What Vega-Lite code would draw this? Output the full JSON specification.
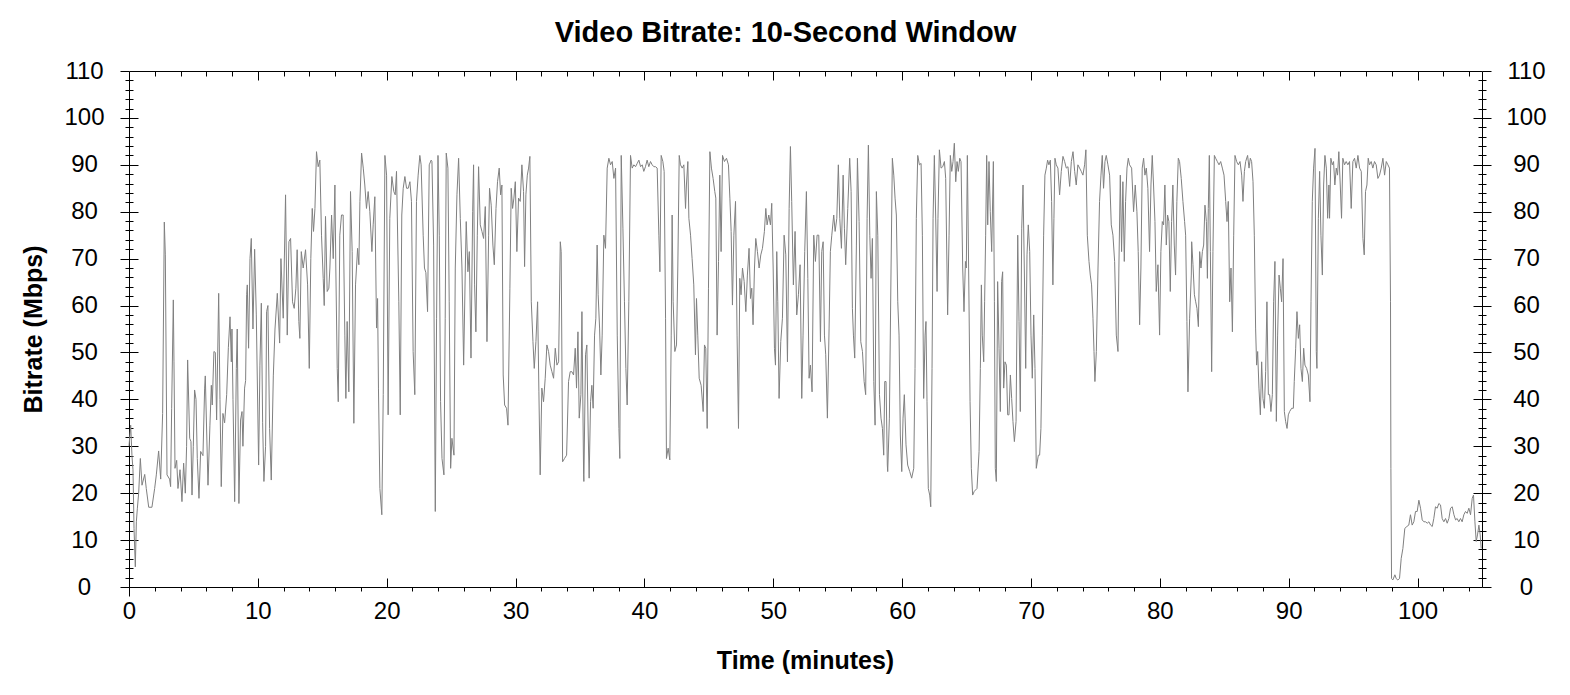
{
  "$schema": "https://vega.github.io/schema/vega-lite/v6.json",
  "description": "Video bitrate over time, 10-second window",
  "autosize": {"type": "none"},
  "padding": {"left": 129, "top": 71, "right": 88, "bottom": 108},
  "width": 1353,
  "height": 516,
  "background": "white",
  "title": {
    "text": "Video Bitrate: 10-Second Window",
    "font": "Liberation Sans",
    "fontSize": 29,
    "fontWeight": "bold",
    "color": "black",
    "anchor": "middle",
    "frame": "group",
    "baseline": "alphabetic",
    "dx": -20,
    "dy": 38,
    "offset": 26
  },
  "config": {
    "view": {"stroke": null},
    "axis": {
      "grid": false,
      "domainColor": "black",
      "domainWidth": 1,
      "tickColor": "black",
      "tickWidth": 1,
      "labelColor": "black",
      "labelFont": "Liberation Sans",
      "labelFontSize": 24,
      "titleColor": "black",
      "titleFont": "Liberation Sans",
      "titleFontSize": 25,
      "titleFontWeight": "bold",
      "labelOverlap": false,
      "labelFlush": false
    }
  },
  "data": {
    "values": [
      {"t":0,"v":30},{"t":0.13,"v":34.5},{"t":0.23,"v":28},{"t":0.31,"v":25},{"t":0.39,"v":12.5},{"t":0.49,"v":4.3},{"t":0.57,"v":13.9},{"t":0.65,"v":16.8},{"t":0.75,"v":20},{"t":0.88,"v":27.4},
      {"t":1.01,"v":21.7},{"t":1.22,"v":24},{"t":1.34,"v":21},{"t":1.53,"v":17},{"t":1.78,"v":17},{"t":1.99,"v":21},{"t":2.12,"v":23.9},{"t":2.3,"v":29},{"t":2.46,"v":23},{"t":2.61,"v":37},
      {"t":2.74,"v":77.8},{"t":2.82,"v":70.8},{"t":2.95,"v":23.9},{"t":3.15,"v":23},{"t":3.23,"v":21.4},{"t":3.31,"v":38},{"t":3.44,"v":61.2},{"t":3.49,"v":48},{"t":3.57,"v":25.3},{"t":3.7,"v":27},
      {"t":3.8,"v":21},{"t":3.96,"v":25},{"t":4.11,"v":18.2},{"t":4.24,"v":26.4},{"t":4.37,"v":20},{"t":4.47,"v":30},{"t":4.55,"v":48.4},{"t":4.71,"v":31.7},{"t":4.81,"v":31},{"t":4.89,"v":19.6},
      {"t":4.99,"v":30},{"t":5.09,"v":42},{"t":5.2,"v":40},{"t":5.3,"v":27.4},{"t":5.43,"v":18.9},{"t":5.56,"v":28.9},{"t":5.74,"v":28},{"t":5.87,"v":42.4},{"t":5.92,"v":45},{"t":6.13,"v":21.7},
      {"t":6.28,"v":34.5},{"t":6.39,"v":43},{"t":6.46,"v":38.8},{"t":6.59,"v":50.2},{"t":6.7,"v":50},{"t":6.8,"v":35.6},{"t":6.96,"v":62.6},{"t":7.06,"v":40},{"t":7.16,"v":21.4},{"t":7.29,"v":37},
      {"t":7.42,"v":35},{"t":7.58,"v":41},{"t":7.71,"v":51},{"t":7.84,"v":57.6},{"t":7.94,"v":48},{"t":7.99,"v":55},{"t":8.07,"v":40},{"t":8.2,"v":18.2},{"t":8.33,"v":46.6},{"t":8.4,"v":55},
      {"t":8.53,"v":17.8},{"t":8.66,"v":35.6},{"t":8.77,"v":37.4},{"t":8.84,"v":30},{"t":8.97,"v":42.4},{"t":9.05,"v":44},{"t":9.13,"v":62.3},{"t":9.18,"v":64.4},{"t":9.28,"v":50.9},{"t":9.39,"v":70},
      {"t":9.49,"v":74.3},{"t":9.62,"v":55},{"t":9.75,"v":72},{"t":9.88,"v":58},{"t":10.06,"v":26},{"t":10.16,"v":47.3},{"t":10.27,"v":60.5},{"t":10.37,"v":35},{"t":10.47,"v":22.5},{"t":10.6,"v":30},
      {"t":10.68,"v":58.7},{"t":10.78,"v":60},{"t":10.91,"v":33.8},{"t":11.04,"v":22.8},{"t":11.2,"v":45},{"t":11.33,"v":55},{"t":11.51,"v":62.6},{"t":11.69,"v":52},
      {"t":11.79,"v":70},{"t":11.97,"v":57.3},{"t":12.15,"v":83.6},{"t":12.28,"v":53.7},{"t":12.41,"v":73.6},{"t":12.54,"v":74.3},{"t":12.69,"v":60.8},{"t":12.82,"v":59.4},{"t":12.95,"v":63.7},{"t":13.05,"v":71.9},
      {"t":13.18,"v":56.6},{"t":13.26,"v":53},{"t":13.37,"v":71.5},{"t":13.52,"v":68},{"t":13.7,"v":71.9},{"t":13.86,"v":64.4},{"t":13.99,"v":46.6},{"t":14.11,"v":70},{"t":14.22,"v":80.7},{"t":14.32,"v":75.8},
      {"t":14.43,"v":80.7},{"t":14.55,"v":92.8},{"t":14.68,"v":89.6},{"t":14.81,"v":91},{"t":14.94,"v":75},{"t":15.07,"v":65.8},{"t":15.15,"v":60},{"t":15.25,"v":79},{"t":15.38,"v":63},{"t":15.51,"v":63.7},
      {"t":15.59,"v":68},{"t":15.72,"v":79.3},{"t":15.85,"v":70},{"t":15.98,"v":85.7},{"t":16.05,"v":68},{"t":16.16,"v":46.6},{"t":16.24,"v":39.5},{"t":16.36,"v":75},{"t":16.49,"v":79.3},{"t":16.62,"v":79.3},
      {"t":16.75,"v":53.7},{"t":16.83,"v":40.2},{"t":16.93,"v":56.6},{"t":17.06,"v":41.6},{"t":17.19,"v":84.3},{"t":17.32,"v":71.5},{"t":17.45,"v":34.9},{"t":17.58,"v":64.4},{"t":17.74,"v":72.2},{"t":17.84,"v":68.7},
      {"t":17.92,"v":82.2},{"t":18.05,"v":92.5},{"t":18.18,"v":89.3},{"t":18.3,"v":85.7},{"t":18.43,"v":80.7},{"t":18.56,"v":84.3},{"t":18.69,"v":80},{"t":18.85,"v":71.5},{"t":18.95,"v":77.2},{"t":19.08,"v":83.2},
      {"t":19.21,"v":55.2},{"t":19.29,"v":61.5},{"t":19.36,"v":42.4},{"t":19.47,"v":21},{"t":19.62,"v":15.4},{"t":19.73,"v":41},{"t":19.86,"v":92},{"t":19.99,"v":87.8},{"t":20.11,"v":36.7},{"t":20.24,"v":78.6},
      {"t":20.4,"v":87.5},{"t":20.55,"v":84.3},{"t":20.66,"v":83.6},{"t":20.76,"v":88.6},{"t":20.94,"v":60.8},{"t":21.05,"v":36.7},{"t":21.17,"v":79.3},{"t":21.28,"v":85},{"t":21.41,"v":87.5},{"t":21.54,"v":85},
      {"t":21.67,"v":85},{"t":21.8,"v":86.4},{"t":21.92,"v":82.2},{"t":22.05,"v":50.2},{"t":22.18,"v":41},{"t":22.31,"v":82.2},{"t":22.44,"v":87.8},{"t":22.57,"v":92},{"t":22.67,"v":90},{"t":22.83,"v":75},
      {"t":22.93,"v":68},{"t":23.04,"v":67},{"t":23.17,"v":58.7},{"t":23.3,"v":90},{"t":23.45,"v":91},
      {"t":23.51,"v":90.7},{"t":23.64,"v":72.9},{"t":23.77,"v":16.1},{"t":23.87,"v":57.3},{"t":23.98,"v":92},{"t":24.08,"v":75},{"t":24.18,"v":39.5},{"t":24.29,"v":27.4},{"t":24.44,"v":23.9},{"t":24.54,"v":57.3},
      {"t":24.62,"v":92.5},{"t":24.75,"v":89.3},{"t":24.85,"v":60.8},{"t":24.96,"v":25.3},{"t":25.06,"v":31.7},{"t":25.22,"v":28.1},{"t":25.32,"v":68},{"t":25.45,"v":83.6},{"t":25.58,"v":91.4},{"t":25.71,"v":78.6},
      {"t":25.84,"v":68},{"t":25.97,"v":47.3},{"t":26.1,"v":68},{"t":26.17,"v":77.9},{"t":26.3,"v":67.2},{"t":26.41,"v":71.5},{"t":26.54,"v":48.8},{"t":26.67,"v":80},{"t":26.74,"v":90},{"t":26.82,"v":64.4},
      {"t":26.92,"v":54.4},{"t":27.03,"v":75},{"t":27.13,"v":89.6},{"t":27.26,"v":77.2},{"t":27.39,"v":75.8},{"t":27.52,"v":74.3},{"t":27.65,"v":81.1},{"t":27.78,"v":52.3},{"t":27.91,"v":75},{"t":27.98,"v":85},
      {"t":28.11,"v":81.4},{"t":28.24,"v":72.9},{"t":28.35,"v":68.7},{"t":28.48,"v":80.7},{"t":28.6,"v":86.4},{"t":28.73,"v":89.3},{"t":28.84,"v":83.6},{"t":28.94,"v":85.7},{"t":29.04,"v":45.2},{"t":29.15,"v":38.8},
      {"t":29.3,"v":38.1},{"t":29.41,"v":34.5},{"t":29.56,"v":63.7},{"t":29.66,"v":85},{"t":29.77,"v":80.7},{"t":29.87,"v":82.9},{"t":29.98,"v":86.4},{"t":30.1,"v":71.5},{"t":30.23,"v":82.9},{"t":30.36,"v":82.2},
      {"t":30.49,"v":90},{"t":30.62,"v":84.3},{"t":30.7,"v":68.3},{"t":30.8,"v":83.6},{"t":30.91,"v":87.8},{"t":31.01,"v":89.3},{"t":31.11,"v":91.8},{"t":31.22,"v":60.8},{"t":31.35,"v":52.3},{"t":31.45,"v":46.6},
      {"t":31.58,"v":52.3},{"t":31.71,"v":60.8},{"t":31.81,"v":41.6},{"t":31.91,"v":23.9},{"t":32.04,"v":42.4},{"t":32.17,"v":39.5},{"t":32.3,"v":44.5},{"t":32.43,"v":51.6},{"t":32.56,"v":50.2},{"t":32.69,"v":47.3},
      {"t":32.82,"v":45.9},{"t":32.95,"v":44.5},{"t":33.08,"v":50.9},{"t":33.21,"v":47.3},{"t":33.34,"v":48},{"t":33.47,"v":73.6},{"t":33.54,"v":71.5},{"t":33.65,"v":26.7},{"t":33.8,"v":27.4},{"t":33.96,"v":28.1},
      {"t":34.11,"v":43.8},{"t":34.24,"v":45.9},{"t":34.37,"v":45.9},{"t":34.5,"v":45.2},{"t":34.63,"v":50.9},{"t":34.73,"v":42.4},{"t":34.84,"v":54.4},{"t":34.94,"v":36},{"t":35.07,"v":41},{"t":35.15,"v":58.7},
      {"t":35.28,"v":23.9},{"t":35.3,"v":22.5},{"t":35.43,"v":49.5},{"t":35.53,"v":51.6},{"t":35.64,"v":32.4},{"t":35.71,"v":23.2},{"t":35.82,"v":39.5},{"t":35.92,"v":43},{"t":36.02,"v":38.1},{"t":36.13,"v":53.7},
      {"t":36.23,"v":57.3},{"t":36.33,"v":72.9},{"t":36.41,"v":62.3},{"t":36.52,"v":55.2},{"t":36.62,"v":45.2},{"t":36.72,"v":53.7},{"t":36.85,"v":75},{"t":36.98,"v":72.2},{"t":37.11,"v":89.3},{"t":37.24,"v":91.4},
      {"t":37.37,"v":90},{"t":37.5,"v":90.7},{"t":37.63,"v":87.1},{"t":37.76,"v":89.3},{"t":37.89,"v":53.7},{"t":38.02,"v":33.8},{"t":38.09,"v":27.4},{"t":38.2,"v":92},{"t":38.33,"v":76.5},{"t":38.45,"v":60.8},
      {"t":38.56,"v":46.6},{"t":38.66,"v":38.8},{"t":38.79,"v":60.8},{"t":38.92,"v":92},{"t":39.05,"v":89.3},{"t":39.18,"v":90},{"t":39.31,"v":89.6},{"t":39.44,"v":90.3},{"t":39.57,"v":91},{"t":39.7,"v":89.6},
      {"t":39.83,"v":90},{"t":39.95,"v":88.6},{"t":40.08,"v":89.6},{"t":40.21,"v":91},{"t":40.34,"v":89.6},{"t":40.47,"v":90.7},{"t":40.6,"v":90},{"t":40.73,"v":89.6},{"t":40.86,"v":89.6},{"t":40.99,"v":89.3},
      {"t":41.12,"v":75},{"t":41.2,"v":67.2},{"t":41.3,"v":92},{"t":41.43,"v":90.7},{"t":41.53,"v":88.6},{"t":41.64,"v":57.3},{"t":41.71,"v":27.4},{"t":41.84,"v":29.6},{"t":41.97,"v":27.1},{"t":42.08,"v":53.7},
      {"t":42.15,"v":79.3},{"t":42.23,"v":60.8},{"t":42.36,"v":50.2},{"t":42.49,"v":51.6},{"t":42.59,"v":68},{"t":42.7,"v":92},{"t":42.8,"v":90},{"t":42.93,"v":89.3},{"t":43.06,"v":90},{"t":43.19,"v":80.7},
      {"t":43.26,"v":85.7},{"t":43.37,"v":90.7},{"t":43.45,"v":78.6},{"t":43.58,"v":75},{"t":43.7,"v":70},{"t":43.83,"v":64.4},{"t":43.96,"v":49.5},{"t":44.04,"v":61.5},{"t":44.14,"v":53.7},{"t":44.25,"v":44.5},
      {"t":44.4,"v":43},{"t":44.56,"v":37.4},{"t":44.66,"v":51.6},{"t":44.76,"v":50.9},{"t":44.87,"v":33.8},{"t":44.97,"v":63.7},{"t":45.08,"v":92.8},{"t":45.2,"v":89.3},{"t":45.33,"v":87.1},{"t":45.46,"v":84.3},
      {"t":45.54,"v":82.9},{"t":45.64,"v":53.7},{"t":45.75,"v":69.4},{"t":45.85,"v":87.8},{"t":45.95,"v":71.5},{"t":46.06,"v":92},{"t":46.21,"v":90.7},{"t":46.37,"v":91.4},{"t":46.52,"v":90},{"t":46.63,"v":82.9},
      {"t":46.73,"v":75.8},{"t":46.83,"v":60.1},{"t":46.94,"v":75},{"t":47.07,"v":82.2},
      {"t":47.19,"v":53.7},{"t":47.3,"v":33.8},{"t":47.4,"v":65.8},{"t":47.5,"v":62.3},{"t":47.61,"v":68},{"t":47.74,"v":65.1},{"t":47.87,"v":58.7},{"t":47.99,"v":66.5},{"t":48.12,"v":72.2},{"t":48.23,"v":61.5},
      {"t":48.33,"v":63.7},{"t":48.43,"v":55.9},{"t":48.54,"v":68},{"t":48.64,"v":74.3},{"t":48.77,"v":71.5},{"t":48.9,"v":68},{"t":49.03,"v":70.8},{"t":49.16,"v":72.2},{"t":49.31,"v":75.8},{"t":49.42,"v":80.7},
      {"t":49.52,"v":77.2},{"t":49.65,"v":79.3},{"t":49.78,"v":77.2},{"t":49.88,"v":81.8},{"t":49.99,"v":68},{"t":50.09,"v":50.9},{"t":50.17,"v":47.3},{"t":50.27,"v":71.5},{"t":50.35,"v":60.8},{"t":50.45,"v":40.2},
      {"t":50.58,"v":52.3},{"t":50.71,"v":57.3},{"t":50.84,"v":75},{"t":50.97,"v":70.8},{"t":51.1,"v":48},{"t":51.23,"v":80.7},{"t":51.33,"v":93.9},{"t":51.43,"v":82.2},{"t":51.56,"v":64.4},{"t":51.69,"v":75.8},
      {"t":51.82,"v":58},{"t":51.95,"v":62.3},{"t":52.08,"v":68.7},{"t":52.21,"v":40.2},{"t":52.31,"v":53.7},{"t":52.44,"v":71.5},{"t":52.57,"v":84.3},{"t":52.68,"v":65.8},{"t":52.78,"v":44.5},{"t":52.88,"v":47.3},
      {"t":53.01,"v":41.6},{"t":53.14,"v":75},{"t":53.27,"v":69.4},{"t":53.4,"v":75},{"t":53.53,"v":75},{"t":53.66,"v":52.3},{"t":53.76,"v":71.5},{"t":53.87,"v":73.6},{"t":53.97,"v":53.7},{"t":54.07,"v":49.5},
      {"t":54.2,"v":36},{"t":54.33,"v":55.2},{"t":54.43,"v":71.5},{"t":54.54,"v":75},{"t":54.69,"v":79.3},{"t":54.8,"v":75.8},{"t":54.93,"v":78.6},{"t":55.05,"v":90},{"t":55.16,"v":78.6},{"t":55.29,"v":72.2},
      {"t":55.42,"v":87.8},{"t":55.52,"v":76.5},{"t":55.62,"v":68.7},{"t":55.78,"v":80.7},{"t":55.93,"v":91.4},{"t":56.04,"v":84.3},{"t":56.14,"v":59.4},{"t":56.22,"v":53.7},{"t":56.32,"v":48.8},{"t":56.45,"v":72.9},
      {"t":56.53,"v":91.4},{"t":56.66,"v":77.9},{"t":56.79,"v":52.3},{"t":56.92,"v":50.2},{"t":57.05,"v":43.8},{"t":57.17,"v":41},{"t":57.28,"v":78.6},{"t":57.38,"v":94.2},{"t":57.49,"v":75},{"t":57.59,"v":65.8},
      {"t":57.69,"v":74.3},{"t":57.8,"v":43.8},{"t":57.9,"v":34.5},{"t":58.0,"v":84.3},{"t":58.11,"v":75},{"t":58.24,"v":41},{"t":58.36,"v":36},{"t":58.47,"v":33.8},{"t":58.57,"v":28.1},{"t":58.65,"v":43.8},
      {"t":58.75,"v":43.8},{"t":58.85,"v":26},
      {"t":58.88,"v":24.6},{"t":59.01,"v":36},{"t":59.14,"v":68},{"t":59.24,"v":91.4},{"t":59.35,"v":87.8},{"t":59.45,"v":82.9},{"t":59.55,"v":79.3},{"t":59.66,"v":60.8},{"t":59.76,"v":53.7},{"t":59.86,"v":32.4},
      {"t":59.97,"v":24.6},{"t":60.07,"v":36},{"t":60.17,"v":41},{"t":60.3,"v":30.3},{"t":60.43,"v":26},{"t":60.59,"v":24.6},{"t":60.74,"v":23.2},{"t":60.9,"v":25.3},{"t":61.0,"v":46.6},{"t":61.1,"v":78.6},
      {"t":61.21,"v":92},{"t":61.34,"v":90},{"t":61.47,"v":90.3},{"t":61.57,"v":75},{"t":61.67,"v":40.2},{"t":61.78,"v":53.7},{"t":61.85,"v":56.6},{"t":61.93,"v":39.5},{"t":62.03,"v":21},{"t":62.14,"v":19.6},
      {"t":62.22,"v":17.1},{"t":62.32,"v":46.6},{"t":62.4,"v":78.6},{"t":62.5,"v":92},{"t":62.6,"v":79.3},{"t":62.71,"v":63},{"t":62.78,"v":78.6},{"t":62.89,"v":93.2},{"t":63.02,"v":89.3},{"t":63.15,"v":89.6},
      {"t":63.28,"v":90.7},{"t":63.38,"v":87.1},{"t":63.48,"v":68},{"t":63.53,"v":58},{"t":63.64,"v":75},{"t":63.74,"v":92},{"t":63.85,"v":88.6},{"t":63.95,"v":90.7},{"t":64.05,"v":94.6},{"t":64.16,"v":86.4},
      {"t":64.26,"v":90.7},{"t":64.36,"v":88.6},{"t":64.47,"v":91.4},{"t":64.57,"v":90.7},{"t":64.7,"v":68},{"t":64.8,"v":58.7},{"t":64.91,"v":69.4},{"t":64.98,"v":68},{"t":65.06,"v":92},{"t":65.16,"v":68},
      {"t":65.27,"v":39.5},{"t":65.37,"v":25.3},{"t":65.47,"v":19.6},{"t":65.6,"v":20.4},{"t":65.81,"v":21},{"t":65.97,"v":28.9},{"t":66.07,"v":46.6},{"t":66.15,"v":64.4},{"t":66.22,"v":53.7},{"t":66.33,"v":48},
      {"t":66.4,"v":60.8},{"t":66.48,"v":75},{"t":66.56,"v":92},{"t":66.64,"v":77.2},{"t":66.74,"v":90.7},{"t":66.84,"v":80},{"t":66.95,"v":71.5},{"t":67.08,"v":90.7},{"t":67.16,"v":60.8},{"t":67.23,"v":25.3},
      {"t":67.31,"v":22.5},{"t":67.41,"v":65.1},{"t":67.52,"v":50.9},{"t":67.62,"v":37.4},{"t":67.72,"v":65.1},{"t":67.8,"v":67.2},{"t":67.88,"v":42.4},{"t":67.98,"v":48},{"t":68.09,"v":47.3},{"t":68.19,"v":36.7},
      {"t":68.29,"v":36.7},{"t":68.4,"v":45.2},{"t":68.5,"v":40.2},{"t":68.6,"v":35.3},{"t":68.71,"v":31},{"t":68.84,"v":35.3},{"t":68.97,"v":75},{"t":69.07,"v":56.6},{"t":69.17,"v":37.4},{"t":69.28,"v":76.5},
      {"t":69.38,"v":85.7},{"t":69.48,"v":68},{"t":69.59,"v":46.6},{"t":69.69,"v":70.8},{"t":69.79,"v":77.2},{"t":69.9,"v":71.5},{"t":70.0,"v":53.7},{"t":70.1,"v":44.5},{"t":70.21,"v":58},{"t":70.31,"v":46.6},
      {"t":70.41,"v":25.3},{"t":70.57,"v":28.1},
      {"t":70.67,"v":28.1},{"t":70.77,"v":33.8},{"t":70.88,"v":53.7},{"t":70.98,"v":75},{"t":71.08,"v":87.8},{"t":71.19,"v":89.3},{"t":71.29,"v":91},{"t":71.39,"v":90},{"t":71.5,"v":91},{"t":71.6,"v":82.2},
      {"t":71.7,"v":64.4},{"t":71.78,"v":78.6},{"t":71.86,"v":91.4},{"t":71.96,"v":90},{"t":72.09,"v":89.3},{"t":72.22,"v":83.6},{"t":72.35,"v":88.6},{"t":72.48,"v":91.8},{"t":72.61,"v":90.7},{"t":72.74,"v":89.3},
      {"t":72.87,"v":89.6},{"t":73.0,"v":85.4},{"t":73.13,"v":90.7},{"t":73.26,"v":92.8},{"t":73.39,"v":88.6},{"t":73.51,"v":85.7},{"t":73.64,"v":90},{"t":73.77,"v":89.3},{"t":73.9,"v":88.6},{"t":74.03,"v":87.8},
      {"t":74.16,"v":90},{"t":74.26,"v":93.2},{"t":74.37,"v":75},{"t":74.5,"v":69.4},{"t":74.6,"v":66.5},{"t":74.7,"v":64.4},{"t":74.81,"v":57.3},{"t":74.89,"v":50.2},{"t":74.96,"v":43.8},{"t":75.07,"v":50.2},
      {"t":75.2,"v":68},{"t":75.32,"v":82.2},{"t":75.43,"v":87.8},{"t":75.53,"v":92},{"t":75.63,"v":85},{"t":75.74,"v":90.7},{"t":75.84,"v":92},{"t":75.97,"v":90},{"t":76.1,"v":87.8},{"t":76.23,"v":77.2},
      {"t":76.36,"v":75},{"t":76.49,"v":69.4},{"t":76.62,"v":53.7},{"t":76.75,"v":50.2},{"t":76.82,"v":68},{"t":76.93,"v":87.8},{"t":77.03,"v":71.5},{"t":77.13,"v":86.4},{"t":77.24,"v":69.4},{"t":77.34,"v":82.2},
      {"t":77.45,"v":89.3},{"t":77.55,"v":91.4},{"t":77.65,"v":90},{"t":77.81,"v":89.3},{"t":77.96,"v":80},{"t":78.09,"v":85.7},{"t":78.22,"v":80},{"t":78.32,"v":71.5},{"t":78.43,"v":55.9},{"t":78.53,"v":68},
      {"t":78.63,"v":89.3},{"t":78.74,"v":91.4},{"t":78.84,"v":87.8},{"t":78.95,"v":89.3},{"t":79.07,"v":85},{"t":79.2,"v":71.5},{"t":79.31,"v":85.7},{"t":79.41,"v":92},{"t":79.51,"v":85.7},{"t":79.62,"v":77.9},
      {"t":79.72,"v":63},{"t":79.85,"v":68.7},{"t":79.98,"v":53.7},{"t":80.08,"v":71.5},{"t":80.19,"v":77.9},{"t":80.29,"v":77.2},{"t":80.39,"v":85.7},{"t":80.5,"v":72.9},{"t":80.6,"v":79.3},{"t":80.7,"v":77.9},
      {"t":80.81,"v":63},{"t":80.91,"v":77.9},{"t":81.01,"v":85.7},{"t":81.12,"v":72.9},{"t":81.22,"v":66.5},{"t":81.32,"v":82.2},{"t":81.43,"v":91.4},{"t":81.53,"v":90.7},{"t":81.66,"v":87.1},{"t":81.79,"v":82.2},
      {"t":81.92,"v":77.9},{"t":82.0,"v":75},{"t":82.1,"v":56.6},{"t":82.18,"v":41.6},{"t":82.31,"v":57.3},{"t":82.44,"v":66.5},
      {"t":82.47,"v":73.6},{"t":82.57,"v":68.7},{"t":82.68,"v":62.3},{"t":82.78,"v":60.8},{"t":82.88,"v":59.4},{"t":82.99,"v":55.5},{"t":83.09,"v":71.5},{"t":83.19,"v":68},{"t":83.3,"v":71.5},{"t":83.4,"v":72.9},
      {"t":83.5,"v":81.4},{"t":83.61,"v":77.9},{"t":83.69,"v":65.8},{"t":83.76,"v":80.7},{"t":83.84,"v":92},{"t":83.92,"v":71.5},{"t":84.02,"v":45.9},{"t":84.12,"v":71.5},{"t":84.23,"v":92},{"t":84.33,"v":91.4},
      {"t":84.46,"v":90.7},{"t":84.59,"v":90},{"t":84.72,"v":90.7},{"t":84.85,"v":89.3},{"t":84.98,"v":87.8},{"t":85.11,"v":82.2},{"t":85.21,"v":77.9},{"t":85.31,"v":82.2},{"t":85.42,"v":60.8},{"t":85.52,"v":68},
      {"t":85.63,"v":54.4},{"t":85.73,"v":75},{"t":85.83,"v":92},{"t":85.96,"v":90.7},{"t":86.09,"v":90},{"t":86.22,"v":90.7},{"t":86.35,"v":87.8},{"t":86.45,"v":82.2},{"t":86.56,"v":88.6},{"t":86.66,"v":90.7},
      {"t":86.81,"v":92},{"t":86.92,"v":89.3},{"t":87.02,"v":91.4},{"t":87.12,"v":90.7},{"t":87.23,"v":86.4},{"t":87.33,"v":75},{"t":87.43,"v":55.2},{"t":87.51,"v":47.3},{"t":87.59,"v":50.2},{"t":87.69,"v":42.4},
      {"t":87.8,"v":36.7},{"t":87.9,"v":48},{"t":88.0,"v":40.2},{"t":88.11,"v":38.1},{"t":88.21,"v":45.9},{"t":88.31,"v":60.8},{"t":88.42,"v":41},{"t":88.52,"v":41},{"t":88.62,"v":37.4},{"t":88.73,"v":41},
      {"t":88.83,"v":60.8},{"t":88.93,"v":69.4},{"t":89.04,"v":35.3},{"t":89.14,"v":53.7},{"t":89.25,"v":66.5},{"t":89.35,"v":63.7},{"t":89.45,"v":60.8},{"t":89.56,"v":70},{"t":89.66,"v":37.4},{"t":89.76,"v":35.3},
      {"t":89.87,"v":33.8},{"t":89.97,"v":36.7},{"t":90.07,"v":37.4},{"t":90.23,"v":38.1},{"t":90.36,"v":38.1},{"t":90.43,"v":43.8},{"t":90.54,"v":50.9},{"t":90.64,"v":58.7},{"t":90.75,"v":53},{"t":90.85,"v":55.9},
      {"t":90.95,"v":46.6},{"t":91.06,"v":43.8},{"t":91.16,"v":50.9},{"t":91.26,"v":47.3},{"t":91.39,"v":46.6},{"t":91.52,"v":45.2},{"t":91.65,"v":39.5},{"t":91.73,"v":60.8},{"t":91.83,"v":82.2},{"t":91.93,"v":89.3},
      {"t":92.04,"v":93.5},{"t":92.14,"v":50.2},{"t":92.19,"v":46.6},{"t":92.3,"v":78.6},{"t":92.4,"v":88.6},{"t":92.5,"v":75},{"t":92.61,"v":66.5},{"t":92.71,"v":85.7},{"t":92.81,"v":92},{"t":92.92,"v":89.3},
      {"t":93.02,"v":78.6},{"t":93.12,"v":85.7},
      {"t":93.17,"v":78.6},{"t":93.27,"v":91.4},{"t":93.38,"v":90},{"t":93.48,"v":90.7},{"t":93.58,"v":85.7},{"t":93.69,"v":89.3},{"t":93.79,"v":87.8},{"t":93.89,"v":92.8},{"t":94.0,"v":85.7},{"t":94.1,"v":78.6},
      {"t":94.2,"v":91.4},{"t":94.33,"v":90},{"t":94.46,"v":90.7},{"t":94.59,"v":90},{"t":94.72,"v":90.7},{"t":94.85,"v":80.7},{"t":94.98,"v":90.7},{"t":95.11,"v":91.4},{"t":95.24,"v":89.3},{"t":95.37,"v":92},
      {"t":95.5,"v":89.3},{"t":95.63,"v":88.6},{"t":95.76,"v":74.3},{"t":95.86,"v":70.8},{"t":95.96,"v":84.3},{"t":96.07,"v":85.7},{"t":96.17,"v":91.4},{"t":96.27,"v":90},{"t":96.4,"v":90.7},{"t":96.53,"v":89.3},
      {"t":96.66,"v":90.7},{"t":96.79,"v":90},{"t":96.92,"v":87.1},{"t":97.05,"v":87.8},{"t":97.18,"v":89.3},{"t":97.31,"v":91.4},{"t":97.44,"v":87.8},{"t":97.57,"v":90.7},{"t":97.7,"v":90},{"t":97.82,"v":89.3},
      {"t":97.9,"v":60.8},{"t":97.93,"v":25.3},{"t":97.98,"v":1.8},{"t":98.08,"v":1.5},{"t":98.24,"v":2.6},{"t":98.34,"v":1.8},{"t":98.47,"v":1.5},{"t":98.6,"v":1.8},{"t":98.73,"v":6.1},{"t":98.86,"v":8.2},
      {"t":99.01,"v":12.5},{"t":99.17,"v":12.9},{"t":99.32,"v":13.2},{"t":99.45,"v":15.4},{"t":99.58,"v":13.2},{"t":99.71,"v":13.9},{"t":99.84,"v":16.1},{"t":99.97,"v":16.1},{"t":100.1,"v":18.5},{"t":100.23,"v":16.8},
      {"t":100.36,"v":14.3},{"t":100.49,"v":13.9},{"t":100.62,"v":13.9},{"t":100.75,"v":13.6},{"t":100.88,"v":13.9},{"t":101.01,"v":13.2},{"t":101.14,"v":12.9},{"t":101.26,"v":14.6},{"t":101.39,"v":17.1},{"t":101.52,"v":16.8},
      {"t":101.65,"v":17.8},{"t":101.78,"v":17.5},{"t":101.91,"v":14.6},{"t":102.04,"v":13.9},{"t":102.17,"v":14.6},{"t":102.3,"v":13.6},{"t":102.43,"v":14.6},{"t":102.56,"v":16.8},{"t":102.69,"v":17.1},{"t":102.82,"v":15.4},
      {"t":102.95,"v":14.3},{"t":103.07,"v":14.6},{"t":103.2,"v":13.9},{"t":103.33,"v":14.6},{"t":103.46,"v":13.9},{"t":103.59,"v":15.4},{"t":103.72,"v":16.1},{"t":103.85,"v":15.7},{"t":103.98,"v":16.8},{"t":104.11,"v":15.4},
      {"t":104.24,"v":18.9},{"t":104.34,"v":19.6},{"t":104.45,"v":13.9},{"t":104.55,"v":9.7},{"t":104.65,"v":11.1},{"t":104.76,"v":13.2},{"t":104.86,"v":11.1},{"t":104.94,"v":8.2}
    ]
  },
  "resolve": {"axis": {"x": "independent", "y": "independent"}},
  "layer": [
    {
      "mark": {"type": "line", "color": "#808080", "strokeWidth": 1, "interpolate": "linear"},
      "encoding": {
        "x": {"field": "t", "type": "quantitative", "scale": {"domain": [0, 105], "nice": false, "zero": false},
          "axis": {"orient": "bottom", "ticks": false, "domain": true, "values": [0,10,20,30,40,50,60,70,80,90,100], "labelPadding": 12, "labelBaseline": "top", "title": "Time (minutes)", "titleY": 81, "titleBaseline": "alphabetic", "titleX": 676}},
        "y": {"field": "v", "type": "quantitative", "scale": {"domain": [0, 110], "nice": false, "zero": true},
          "axis": {"orient": "left", "ticks": false, "domain": true, "values": [0,10,20,30,40,50,60,70,80,90,100,110], "labelAlign": "center", "labelBaseline": "middle", "labelPadding": 45, "title": "Bitrate (Mbps)", "titleX": -88, "titleY": 258, "titleAngle": -90, "titleAlign": "center", "titleBaseline": "alphabetic"}}
      }
    },
    {
      "mark": {"type": "line", "strokeOpacity": 0},
      "encoding": {
        "x": {"field": "t", "type": "quantitative", "scale": {"domain": [0, 105], "nice": false, "zero": false},
          "axis": {"orient": "bottom", "labels": false, "domain": false, "title": null, "tickSize": -9, "values": [0,10,20,30,40,50,60,70,80,90,100]}},
        "y": {"field": "v", "type": "quantitative", "scale": {"domain": [0, 110], "nice": false, "zero": true},
          "axis": {"orient": "right", "ticks": false, "domain": true, "title": null, "values": [0,10,20,30,40,50,60,70,80,90,100,110], "labelAlign": "center", "labelBaseline": "middle", "labelPadding": 44}}
      }
    },
    {
      "mark": {"type": "line", "strokeOpacity": 0},
      "encoding": {
        "x": {"field": "t", "type": "quantitative", "scale": {"domain": [0, 105], "nice": false, "zero": false},
          "axis": {"orient": "bottom", "labels": false, "domain": false, "title": null, "tickSize": 4, "values": [2,4,6,8,12,14,16,18,22,24,26,28,32,34,36,38,42,44,46,48,52,54,56,58,62,64,66,68,72,74,76,78,82,84,86,88,92,94,96,98,102,104]}},
        "y": {"field": "v", "type": "quantitative", "scale": {"domain": [0, 110], "nice": false, "zero": true},
          "axis": {"orient": "left", "labels": false, "domain": false, "title": null, "tickSize": 9, "values": [0,10,20,30,40,50,60,70,80,90,100,110]}}
      }
    },
    {
      "mark": {"type": "line", "strokeOpacity": 0},
      "encoding": {
        "x": {"field": "t", "type": "quantitative", "scale": {"domain": [0, 105], "nice": false, "zero": false},
          "axis": {"orient": "top", "labels": false, "domain": true, "title": null, "tickSize": -9, "values": [10,20,30,40,50,60,70,80,90,100]}},
        "y": {"field": "v", "type": "quantitative", "scale": {"domain": [0, 110], "nice": false, "zero": true},
          "axis": {"orient": "left", "labels": false, "domain": false, "title": null, "tickSize": -9, "values": [10,20,30,40,50,60,70,80,90,100]}}
      }
    },
    {
      "mark": {"type": "line", "strokeOpacity": 0},
      "encoding": {
        "x": {"field": "t", "type": "quantitative", "scale": {"domain": [0, 105], "nice": false, "zero": false},
          "axis": {"orient": "top", "labels": false, "domain": false, "title": null, "tickSize": -5, "values": [2,4,6,8,12,14,16,18,22,24,26,28,32,34,36,38,42,44,46,48,52,54,56,58,62,64,66,68,72,74,76,78,82,84,86,88,92,94,96,98,102,104]}},
        "y": {"field": "v", "type": "quantitative", "scale": {"domain": [0, 110], "nice": false, "zero": true},
          "axis": {"orient": "left", "labels": false, "domain": false, "title": null, "tickSize": 4, "values": [2,4,6,8,12,14,16,18,22,24,26,28,32,34,36,38,42,44,46,48,52,54,56,58,62,64,66,68,72,74,76,78,82,84,86,88,92,94,96,98,102,104,106,108]}}
      }
    },
    {
      "mark": {"type": "line", "strokeOpacity": 0},
      "encoding": {
        "x": {"field": "t", "type": "quantitative", "scale": {"domain": [0, 105], "nice": false, "zero": false},
          "axis": {"orient": "bottom", "labels": false, "domain": false, "title": null, "tickSize": 9, "values": [0]}},
        "y": {"field": "v", "type": "quantitative", "scale": {"domain": [0, 110], "nice": false, "zero": true},
          "axis": {"orient": "left", "labels": false, "domain": false, "title": null, "tickSize": -4, "values": [2,4,6,8,12,14,16,18,22,24,26,28,32,34,36,38,42,44,46,48,52,54,56,58,62,64,66,68,72,74,76,78,82,84,86,88,92,94,96,98,102,104,106,108]}}
      }
    },
    {
      "mark": {"type": "line", "strokeOpacity": 0},
      "encoding": {
        "x": {"field": "t", "type": "quantitative", "scale": {"domain": [0, 105], "nice": false, "zero": false}, "axis": null},
        "y": {"field": "v", "type": "quantitative", "scale": {"domain": [0, 110], "nice": false, "zero": true},
          "axis": {"orient": "right", "labels": false, "domain": false, "title": null, "tickSize": 9, "values": [0,10,20,30,40,50,60,70,80,90,100,110]}}
      }
    },
    {
      "mark": {"type": "line", "strokeOpacity": 0},
      "encoding": {
        "x": {"field": "t", "type": "quantitative", "scale": {"domain": [0, 105], "nice": false, "zero": false}, "axis": null},
        "y": {"field": "v", "type": "quantitative", "scale": {"domain": [0, 110], "nice": false, "zero": true},
          "axis": {"orient": "right", "labels": false, "domain": false, "title": null, "tickSize": -9, "values": [10,20,30,40,50,60,70,80,90,100]}}
      }
    },
    {
      "mark": {"type": "line", "strokeOpacity": 0},
      "encoding": {
        "x": {"field": "t", "type": "quantitative", "scale": {"domain": [0, 105], "nice": false, "zero": false}, "axis": null},
        "y": {"field": "v", "type": "quantitative", "scale": {"domain": [0, 110], "nice": false, "zero": true},
          "axis": {"orient": "right", "labels": false, "domain": false, "title": null, "tickSize": 4, "values": [2,4,6,8,12,14,16,18,22,24,26,28,32,34,36,38,42,44,46,48,52,54,56,58,62,64,66,68,72,74,76,78,82,84,86,88,92,94,96,98,102,104,106,108]}}
      }
    },
    {
      "mark": {"type": "line", "strokeOpacity": 0},
      "encoding": {
        "x": {"field": "t", "type": "quantitative", "scale": {"domain": [0, 105], "nice": false, "zero": false}, "axis": null},
        "y": {"field": "v", "type": "quantitative", "scale": {"domain": [0, 110], "nice": false, "zero": true},
          "axis": {"orient": "right", "labels": false, "domain": false, "title": null, "tickSize": -4, "values": [2,4,6,8,12,14,16,18,22,24,26,28,32,34,36,38,42,44,46,48,52,54,56,58,62,64,66,68,72,74,76,78,82,84,86,88,92,94,96,98,102,104,106,108]}}
      }
    }
  ]
}
